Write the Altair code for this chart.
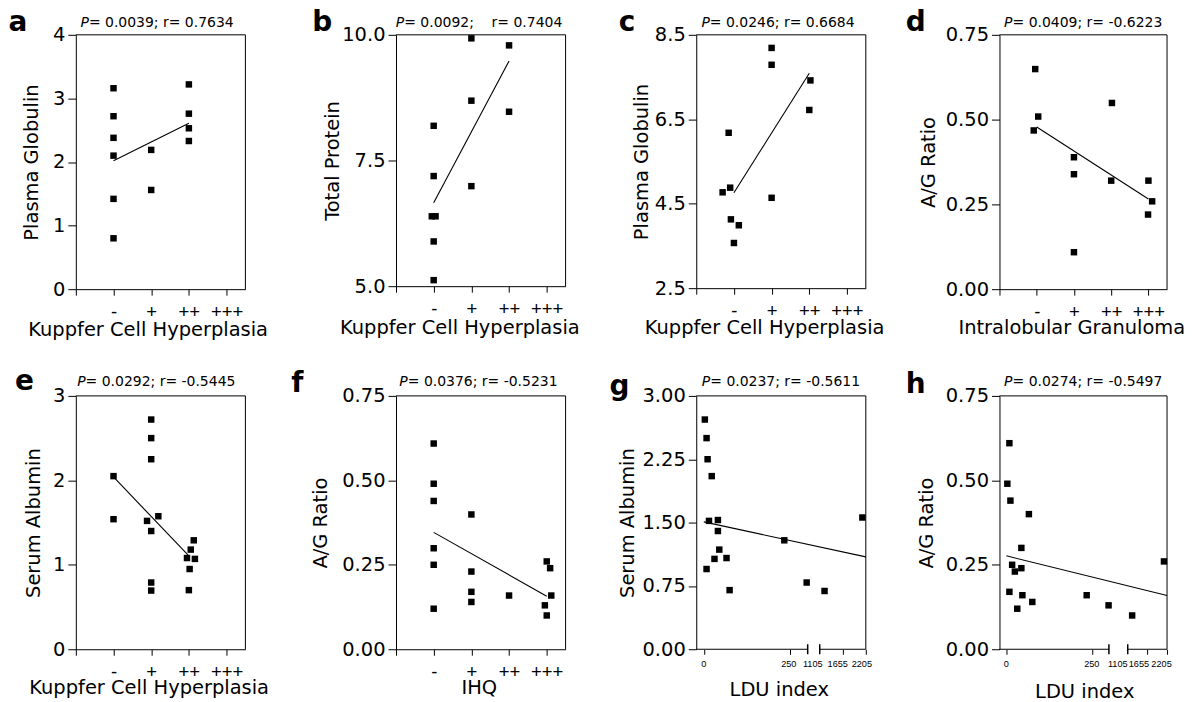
import json
import altair as alt
import pandas as pd

FONT = "DejaVu Sans"
CAT_FONT = "Liberation Sans"

# ---------------- data ----------------
grade_labels = ["", "-", "+", "++", "+++"]
grade_ticks = [0, 1, 2, 3, 4]
ldu_ticks = [0, 250, 1105, 1655, 2205]

# a: Kuppfer cell hyperplasia vs plasma globulin
a_grade = [1, 1, 1, 1, 1, 1, 2, 2, 3, 3, 3, 3]
a_glob = [3.16, 2.72, 2.38, 2.10, 1.42, 0.80, 2.19, 1.56, 3.22, 2.76, 2.53, 2.33]
a_fit_grade = [1, 3]
a_fit_val = [2.02, 2.61]

# b: Kuppfer cell hyperplasia vs total protein
b_grade = [1, 1, 0.95, 1.05, 1, 1, 2, 2, 2, 3, 3]
b_prot = [8.19, 7.19, 6.39, 6.39, 5.89, 5.12, 9.93, 8.69, 6.99, 9.79, 8.47]
b_fit_grade = [1, 3]
b_fit_val = [6.66, 9.48]

# c: Kuppfer cell hyperplasia vs plasma globulin
c_grade = [2.0, 2.0, 3.03, 3.0, 0.86, 0.90, 0.70, 2.0, 0.92, 1.13, 1.0]
c_glob = [8.19, 7.79, 7.42, 6.72, 6.18, 4.88, 4.77, 4.64, 4.13, 3.99, 3.57]
c_fit_grade = [1, 3]
c_fit_val = [4.76, 7.59]

# d: intralobular granuloma vs A/G ratio
d_grade = [0.96, 1.04, 0.92, 2, 2, 2, 3.02, 3, 4, 4.1, 3.99]
d_ratio = [0.649, 0.509, 0.468, 0.389, 0.339, 0.109, 0.549, 0.32, 0.32, 0.259, 0.22]
d_fit_grade = [1, 4]
d_fit_val = [0.478, 0.266]

# e: Kuppfer cell hyperplasia vs serum albumin
e_grade = [1, 1, 2, 2, 2, 1.89, 2.19, 2, 2, 2, 3.13, 3.05, 2.95, 3.16, 3.02, 3.0]
e_alb = [2.05, 1.54, 2.72, 2.50, 2.25, 1.52, 1.575, 1.40, 0.79, 0.695,
         1.29, 1.18, 1.08, 1.07, 0.95, 0.70]
e_fit_grade = [1, 3]
e_fit_val = [2.04, 1.105]

# f: IHQ vs A/G ratio
f_ihq = [1, 1, 1, 1, 1, 1, 2, 2, 2, 2, 3, 4, 4.09, 4.12, 3.95, 4.0]
f_ratio = [0.609, 0.490, 0.439, 0.299, 0.25, 0.12, 0.399, 0.23, 0.17, 0.14,
           0.159, 0.26, 0.24, 0.159, 0.13, 0.10]
f_fit_ihq = [1, 4]
f_fit_val = [0.346, 0.157]

# g: LDU index vs serum albumin
g_ldu = [3, 8, 11, 23, 15, 41, 41, 45, 31, 66, 8, 75, 234, 299, 1220, 2123]
g_alb = [2.72, 2.50, 2.25, 2.05, 1.52, 1.53, 1.40, 1.18, 1.07, 1.08, 0.95, 0.70,
         1.29, 0.79, 0.69, 1.56]
g_fit_ldu = [0, 2205]
g_fit_val = [1.508, 1.094]

# h: LDU index vs A/G ratio
h_ldu = [9, 3, 12, 66, 44, 17, 44, 25, 9, 47, 76, 32, 235, 299, 1229, 2119]
h_ratio = [0.61, 0.49, 0.44, 0.40, 0.30, 0.25, 0.24, 0.23, 0.17, 0.16, 0.14, 0.12,
           0.16, 0.13, 0.10, 0.26]
h_fit_ldu = [0, 2205]
h_fit_val = [0.2766, 0.159]

# ---------------- helpers ----------------
DJV = {" ": 318, "\u00a0": 318, "-": 361, ".": 318, ";": 337, "=": 838, "r": 411, "P": 603}


def tw(s, size):
    return sum(DJV.get(ch, 636) for ch in s) * size / 1000.0


dummy = pd.DataFrame({"k": [0]})


def build_panel(p):
    W, H = p["W"], p["H"]
    broken = p.get("broken")
    if broken:
        b1, b2, dmin, dmax = broken

        def disp(v):
            return float(v) if v <= b1 else b2 + (v - 1105) * (dmax - b2) / 1100.0

        xs = [disp(v) for v in p["xs"]]
        fx = [disp(v) for v in p["fx"]]
        xdom = [dmin, dmax]
        xaxis = alt.Axis(values=[disp(v) for v in ldu_ticks if v != 1105], labels=False,
                         domain=False, grid=False, tickColor="black", tickSize=5,
                         title=p["xtitle"], titleFont=FONT, titleFontSize=19.5,
                         titleFontWeight="normal", titleColor="black", titleAlign="center",
                         titleBaseline="alphabetic", titleX=p["xtx"], titleY=p["xty"])
    else:
        xs, fx = p["xs"], p["fx"]
        xdom = [0, 4.5]
        xaxis = alt.Axis(values=grade_ticks, labelExpr=json.dumps(grade_labels) + "[datum.value]",
                         grid=False, domainColor="black", tickColor="black", tickSize=6,
                         labelFont=CAT_FONT, labelFontSize=18.5, labelColor="black",
                         labelPadding=7, labelFlush=False, labelOverlap=False,
                         title=p["xtitle"], titleFont=FONT, titleFontSize=19.5,
                         titleFontWeight="normal", titleColor="black", titleAlign="center",
                         titleBaseline="alphabetic", titleX=p["xtx"], titleY=p["xty"])
    xscale = alt.Scale(domain=xdom, nice=False, zero=False)
    yscale = alt.Scale(domain=p["ydom"], nice=False, zero=False)
    yaxis = alt.Axis(values=p["yvals"], format=p["yfmt"], grid=False, domainColor="black",
                     tickColor="black", tickSize=8, labelFont=FONT, labelFontSize=19.5,
                     labelColor="black", labelPadding=3, labelFlush=False, labelOverlap=False,
                     title=p["ytitle"], titleFont=FONT, titleFontSize=19.5,
                     titleFontWeight="normal", titleColor="black", titleAngle=270,
                     titleAlign="center", titleBaseline="alphabetic",
                     titleX=p["ytx"], titleY=H / 2)

    def X(f):
        return alt.X(f + ":Q", scale=xscale, axis=xaxis)

    def Y(f):
        return alt.Y(f + ":Q", scale=yscale, axis=yaxis)

    pts = alt.Chart(pd.DataFrame({"x": xs, "y": p["ys"]})).mark_square(
        size=42, color="black", opacity=1).encode(x=X("x"), y=Y("y"))
    fit = alt.Chart(pd.DataFrame({"x": fx, "y": p["fy"]})).mark_line(
        color="black", strokeWidth=1.1).encode(x=X("x"), y=Y("y"))
    top = alt.Chart(dummy).mark_rule(color="black", strokeWidth=1).encode(
        x=alt.value(0), x2=alt.value(W), y=alt.value(0))
    right = alt.Chart(dummy).mark_rule(color="black", strokeWidth=1).encode(
        x=alt.value(W), y=alt.value(0), y2=alt.value(H))

    stat = p["stat"]
    size = 14
    wP = tw("P", size)
    start = p["scx"] - tw(stat, size) / 2 + wP
    st_p = alt.Chart(dummy).mark_text(text="P", font=FONT, fontSize=size, fontStyle="italic",
                                      align="right", baseline="alphabetic", color="black").encode(
        x=alt.value(start), y=alt.value(p["sty"]))
    st_r = alt.Chart(dummy).mark_text(text=stat[1:], font=FONT, fontSize=size,
                                      align="left", baseline="alphabetic", color="black").encode(
        x=alt.value(start), y=alt.value(p["sty"]))
    let = alt.Chart(dummy).mark_text(text=p["letter"], font=FONT, fontSize=28, fontWeight="bold",
                                     align="center", baseline="alphabetic", color="black").encode(
        x=alt.value(p["lx"]), y=alt.value(p["ly"]))

    layers = [top, right, fit, pts, st_p, st_r, let]
    if broken:
        seg = pd.DataFrame({"x": [dmin, b2], "x2": [b1, dmax]})
        bottom = alt.Chart(seg).mark_rule(color="black", strokeWidth=1).encode(
            x=X("x"), x2="x2:Q", y=alt.value(H))
        mk = alt.Chart(pd.DataFrame({"x": [b1, b2]})).mark_rule(color="black", strokeWidth=1.5).encode(
            x=X("x"), y=alt.value(H - 5), y2=alt.value(H + 5))
        upp = (dmax - dmin) / W
        lab = pd.DataFrame({
            "x": [disp(v) + o * upp for v, o in zip(ldu_ticks, p["ldx"])],
            "t": [str(v) for v in ldu_ticks]})
        labs = alt.Chart(lab).mark_text(font=CAT_FONT, fontSize=9.2, align="center",
                                        baseline="alphabetic", color="black").encode(
            x=X("x"), y=alt.value(H + 18), text="t:N")
        layers = [top, right, bottom, mk, fit, pts, labs, st_p, st_r, let]
    return alt.layer(*layers).properties(width=W, height=H)


panels = [
    dict(letter="a", stat="P= 0.0039; r= 0.7634", xs=a_grade, ys=a_glob, fx=a_fit_grade, fy=a_fit_val,
         ytitle="Plasma Globulin", xtitle="Kuppfer Cell Hyperplasia", ydom=[0, 4],
         yvals=[0, 1, 2, 3, 4], yfmt="d", W=170, H=255, ytx=-38.7, xtx=72, xty=46,
         scx=81.5, sty=-8, lx=-58, ly=-3.5),
    dict(letter="b", stat="P= 0.0092;\u00a0\u00a0\u00a0 r= 0.7404", xs=b_grade, ys=b_prot,
         fx=b_fit_grade, fy=b_fit_val, ytitle="Total Protein", xtitle="Kuppfer Cell Hyperplasia",
         ydom=[5, 10], yvals=[5, 7.5, 10], yfmt=".1f", W=170, H=252, ytx=-57.3, xtx=63.5, xty=47,
         scx=83.3, sty=-8, lx=-74, ly=-3.5),
    dict(letter="c", stat="P= 0.0246; r= 0.6684", xs=c_grade, ys=c_glob, fx=c_fit_grade, fy=c_fit_val,
         ytitle="Plasma Globulin", xtitle="Kuppfer Cell Hyperplasia", ydom=[2.5, 8.5],
         yvals=[2.5, 4.5, 6.5, 8.5], yfmt=".1f", W=170, H=254, ytx=-49.3, xtx=68, xty=45,
         scx=82, sty=-8, lx=-69.5, ly=-3.5),
    dict(letter="d", stat="P= 0.0409; r= -0.6223", xs=d_grade, ys=d_ratio, fx=d_fit_grade,
         fy=d_fit_val, ytitle="A/G Ratio", xtitle="Intralobular Granuloma", ydom=[0, 0.75],
         yvals=[0, 0.25, 0.5, 0.75], yfmt=".2f", W=168, H=255, ytx=-65, xtx=72, xty=44,
         scx=84, sty=-8, lx=-84, ly=-3.5),
    dict(letter="e", stat="P= 0.0292; r= -0.5445", xs=e_grade, ys=e_alb, fx=e_fit_grade, fy=e_fit_val,
         ytitle="Serum Albumin", xtitle="Kuppfer Cell Hyperplasia", ydom=[0, 3],
         yvals=[0, 1, 2, 3], yfmt="d", W=170, H=254, ytx=-36, xtx=73, xty=44,
         scx=80.7, sty=-9.5, lx=-51.5, ly=-6),
    dict(letter="f", stat="P= 0.0376; r= -0.5231", xs=f_ihq, ys=f_ratio, fx=f_fit_ihq, fy=f_fit_val,
         ytitle="A/G Ratio", xtitle="IHQ", ydom=[0, 0.75], yvals=[0, 0.25, 0.5, 0.75], yfmt=".2f",
         W=170, H=254, ytx=-70, xtx=83, xty=44, scx=82.7, sty=-9.5, lx=-99, ly=-4),
    dict(letter="g", stat="P= 0.0237; r= -0.5611", xs=g_ldu, ys=g_alb, fx=g_fit_ldu, fy=g_fit_val,
         ytitle="Serum Albumin", xtitle="LDU index", ydom=[0, 3], yvals=[0, 0.75, 1.5, 2.25, 3],
         yfmt=".2f", W=170, H=254, ytx=-63, xtx=82.7, xty=46.7, scx=85, sty=-9.5, lx=-77, ly=-1,
         broken=(302, 337, -22, 471), ldx=[0, -1, -7, -5, -4]),
    dict(letter="h", stat="P= 0.0274; r= -0.5497", xs=h_ldu, ys=h_ratio, fx=h_fit_ldu, fy=h_fit_val,
         ytitle="A/G Ratio", xtitle="LDU index", ydom=[0, 0.75], yvals=[0, 0.25, 0.5, 0.75],
         yfmt=".2f", W=168, H=254, ytx=-67, xtx=85, xty=48, scx=84, sty=-9.5, lx=-84, ly=-3,
         broken=(300, 355, -20, 470), ldx=[0, 0, -10, -8.5, -5.5]),
]


def spacer(w):
    return alt.Chart(dummy).mark_point(opacity=0).encode(
        x=alt.value(0), y=alt.value(0)).properties(width=w, height=10)


charts = [build_panel(p) for p in panels]
gaps = [151, 131, 134]
cells = []
for row in (charts[:4], charts[4:]):
    for i, c in enumerate(row):
        cells.append(c)
        if i < 3:
            cells.append(spacer(gaps[i]))

chart = alt.concat(*cells, columns=7, spacing={"row": 107, "column": 0}, bounds="flush").properties(
    padding={"left": 0, "top": 0, "right": 0, "bottom": 0}, background="white"
).configure_view(strokeWidth=0, strokeOpacity=0)

chart.save("out.html", embed_options={"renderer": "svg", "actions": False})
